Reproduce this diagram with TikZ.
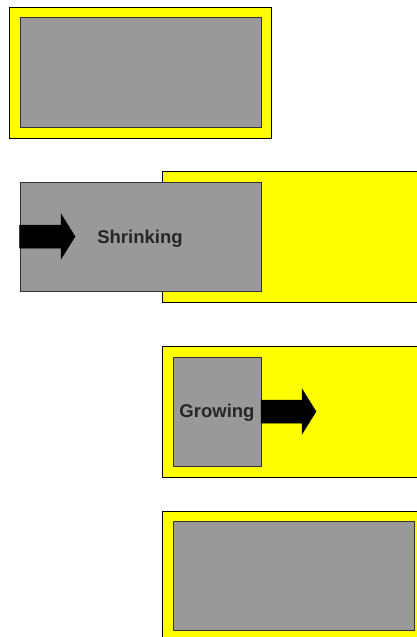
\documentclass[tikz,border=0pt]{standalone}
\usepackage{fontspec}
\setmainfont{Liberation Sans}
\begin{document}
\begin{tikzpicture}[x=1pt,y=-1pt,
  ybox/.style={fill=yel,draw=black,line width=1pt},
  gbox/.style={fill=gray60,draw=black!80,line width=1pt},
  bigarrow/.style={fill=black,draw=black,line width=0.5pt},
  lbl/.style={font=\bfseries\fontsize{18.5}{20}\selectfont,text=black!85,inner sep=0pt}]
\definecolor{gray60}{HTML}{999999}
\definecolor{yel}{HTML}{FFFF00}
\useasboundingbox (0,0) rectangle (417,637);
\clip (0,0) rectangle (417,637);
% panel 1
\draw[ybox] (9,7) rectangle (271,138);
\draw[gbox] (20,17) rectangle (261,127);
% panel 2
\draw[ybox] (162,171) rectangle (430,302);
\draw[gbox] (20,182) rectangle (261,291);
\fill[bigarrow] (19.5,225) -- (61,225) -- (61,214) -- (75,236.5) -- (61,259) -- (61,248) -- (19.5,248) -- cycle;
\node[lbl] (shrink) at (140,239) {Shrinking};
% panel 3
\draw[ybox] (162,346) rectangle (430,477);
\draw[gbox] (173,357) rectangle (261,466);
\fill[bigarrow] (261,400) -- (302,400) -- (302,389) -- (316,411.5) -- (302,434) -- (302,423) -- (261,423) -- cycle;
\node[lbl] (grow) at (217,413) {Growing};
% panel 4
\draw[ybox] (162,511) rectangle (430,650);
\draw[gbox] (173,521) rectangle (414,630);
\end{tikzpicture}
\end{document}
